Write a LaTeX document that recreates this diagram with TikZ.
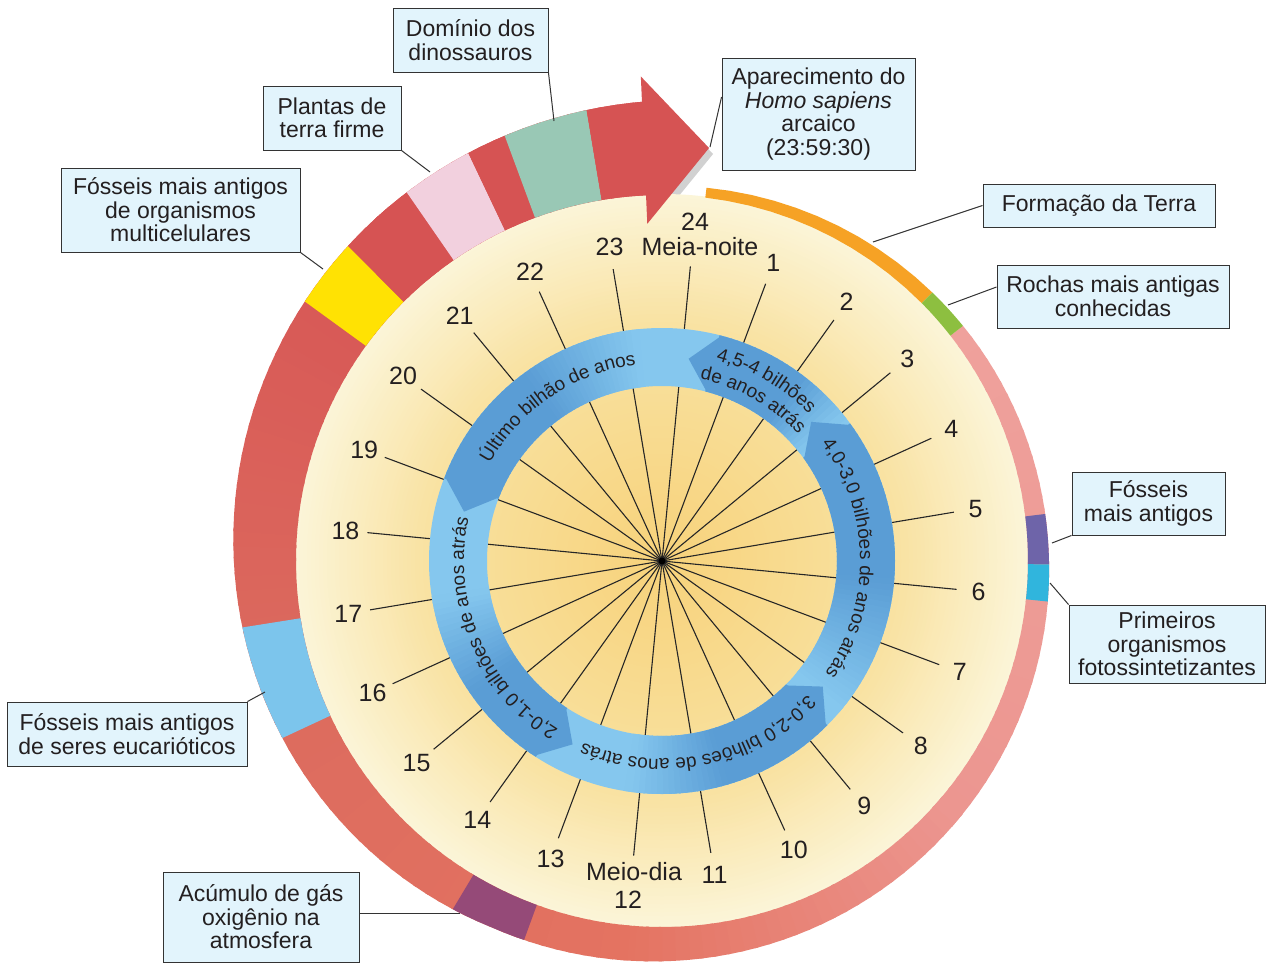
\documentclass[tikz,border=0pt]{standalone}
\usepackage{fontspec}
\setmainfont{Liberation Sans}
\usetikzlibrary{decorations.text}
\definecolor{txt}{HTML}{231F20}
\definecolor{boxfill}{HTML}{E2F4FC}
\definecolor{boxline}{HTML}{333333}
\definecolor{cEdge}{HTML}{FBF5D8}
\definecolor{cMid}{HTML}{F9E2A2}
\definecolor{cCen}{HTML}{F7D27A}
\definecolor{rA}{HTML}{EFA19C}
\definecolor{rB}{HTML}{EC9690}
\definecolor{rC}{HTML}{E47361}
\definecolor{rD}{HTML}{DC6B5E}
\definecolor{rE}{HTML}{D75555}
\definecolor{bOrange}{HTML}{F6A225}
\definecolor{bGreen}{HTML}{8DBF40}
\definecolor{bPurple}{HTML}{6E64A9}
\definecolor{bCyan}{HTML}{30B5DD}
\definecolor{bOxy}{HTML}{954A78}
\definecolor{bLblue}{HTML}{7CC5EC}
\definecolor{bYellow}{HTML}{FFE203}
\definecolor{bPink}{HTML}{F2D0DE}
\definecolor{bTeal}{HTML}{99C8B5}
\definecolor{bRed}{HTML}{D65353}
\definecolor{blight}{HTML}{85C7EE}
\definecolor{bdark}{HTML}{5A9DD5}
\newcommand\boxfont{\fontsize{23}{23.5}\selectfont}
\newcommand\clockfont{\fontsize{25}{26}\selectfont}
\newcommand\ringfont{\fontsize{19}{20}\selectfont}
\newcommand\ringseg[3]{\fill[#3] plot[domain=#1:#2,samples=4,variable=\t] ({366*sin(\t)},{366*cos(\t)}) -- plot[domain=#2:#1,samples=4,variable=\t] ({Rout(\t)*sin(\t)},{Rout(\t)*cos(\t)}) -- cycle;}
\newcommand\bandseg[3]{\fill[#3] plot[domain=#1:#2,samples=12,variable=\t] ({366*sin(\t)},{366*cos(\t)}) -- plot[domain=#2:#1,samples=12,variable=\t] ({Rout(\t)*sin(\t)},{Rout(\t)*cos(\t)}) -- cycle;}
\tikzset{
  lbl/.style={draw=boxline, fill=boxfill, line width=0.9pt, align=center, inner sep=0pt, font=\boxfont, text=txt},
  conn/.style={draw=boxline, line width=1pt},
  spoke/.style={draw=black!85, line width=1.1pt},
  hourlbl/.style={font=\clockfont, text=txt, inner sep=0pt},
  ringtxt/.style={decorate, decoration={text along path, text align=center, text color=txt, text={|\ringfont|#1}}}
}
\begin{document}
\begin{tikzpicture}[x=1pt,y=1pt,
  declare function={
    thk(\t)=(\t<90) ? (8+12*\t/90) : ((\t<205) ? (20+17*(\t-90)/115) : ((\t<310) ? (37+39*(\t-205)/105) : (76+14*(\t-310)/40)));
    Rout(\t)=367+thk(\t);
  }]
\useasboundingbox (0,0) rectangle (1270,-972);
\fill[white] (0,0) rectangle (1270,-972);

\begin{scope}[shift={(662,-561)}]
  % soft shadow of the arrow head
  \fill[black!18, xshift=4, yshift=-6] (92.5:337.5) -- (92.5:485) -- (83.5:415.7) -- cycle;
  % cream disc with radial gradient
  \foreach \r in {367,363,...,239} {
    \pgfmathsetmacro\p{(\r-239)/128*100}
    \fill[cEdge!\p!cMid] (0,0) circle (\r);
  }
  \foreach \r in {235,231,...,3} {
    \pgfmathsetmacro\p{\r/235*100}
    \fill[cMid!\p!cCen] (0,0) circle (\r);
  }
  % spokes
  \foreach \h in {1,...,24} {
    \pgfmathsetmacro\ang{90-15*\h-5.5}
    \draw[spoke] (0,0) -- (\ang:296);
  }
  \fill[black] (0,0) circle (3.5);
  % blue ring
  \fill[blight, even odd rule] (0,0) circle (233) (0,0) circle (175);
  \foreach \b/\D/\F in {14.5/22/15, 54/40/35, 135/28/25, 213/22/25, 291/32/30} {
    \pgfmathsetmacro\L{\D+\F}
    \foreach \k in {0,1.5,...,\L} {
      \pgfmathsetmacro\p{min(100,max(0,100-(\k-\D)/\F*100))}
      \pgfmathsetmacro\aa{90-\b-\k+0.2}
      \pgfmathsetmacro\ab{90-\b-\k-1.8}
      \fill[bdark!\p!blight] (\aa:175) -- (\aa:233) -- (\ab:233) -- (\ab:175) -- cycle;
    }
    \fill[bdark] (90-\b-0.3:175) -- (90-\b-0.3:233) -- (90-\b+7:204) -- cycle;
  }
  % texts on the blue ring
  \path[ringtxt={4,5-4 bilhões}] (90:208) arc[start angle=90, end angle=30, radius=208];
  \path[ringtxt={de anos atrás}] (90.5:186) arc[start angle=90.5, end angle=30.5, radius=186];
  \path[ringtxt={4,0-3,0 bilhões de anos atrás}] (46:198) arc[start angle=46, end angle=-44, radius=198];
  \path[ringtxt={3,0-2,0 bilhões de anos atrás}] (-33:198) arc[start angle=-33, end angle=-123, radius=198];
  \path[ringtxt={2,0-1,0 bilhões de anos atrás}] (-112:198) arc[start angle=-112, end angle=-202, radius=198];
  \path[ringtxt={Último bilhão de anos}] (-196:198) arc[start angle=-196, end angle=-276, radius=198];
  % outer time ring, base gradient
  \foreach \s/\e/\cs/\ce in {52/130/rA/rB, 130/185/rB/rC, 185/250/rC/rD, 250/320/rD/rE, 320/357.5/rE/rE} {
    \pgfmathsetmacro\st{\s+2}
    \foreach \a in {\s,\st,...,\e} {
      \pgfmathsetmacro\p{(\a-\s)/(\e-\s)*100}
      \pgfmathsetmacro\aend{min(\a+2.5,357.5)}
      \ringseg{\a}{\aend}{\ce!\p!\cs}
    }
  }
  % marked events on the ring
  \bandseg{6.8}{45.2}{bOrange}
  \bandseg{45.2}{52}{bGreen}
  \bandseg{83}{90.5}{bPurple}
  \bandseg{90.5}{96}{bCyan}
  \bandseg{200}{211}{bOxy}
  \bandseg{245}{261}{bLblue}
  \bandseg{306}{315.1}{bYellow}
  \bandseg{315.1}{325.3}{bRed}
  \bandseg{325.3}{334.6}{bPink}
  \bandseg{334.6}{339.7}{bRed}
  \bandseg{339.7}{350.5}{bTeal}
  \bandseg{350.5}{357.6}{bRed}
  % arrow head
  \fill[bRed] (92.5:337.5) -- (92.5:485) -- (83.5:415.7) -- cycle;
  % hour labels
  \foreach \h in {1,...,11,13,14,...,23} {
    \pgfmathsetmacro\ang{90-15*\h-5.5}
    \node[hourlbl] (h\h) at (\ang:318) {\h};
  }
  \node[hourlbl] (h24) at (33,339) {24};
  \node[hourlbl] (mn) at (38,314) {Meia-noite};
  \node[hourlbl] (h12) at (-34,-339) {12};
  \node[hourlbl] (md) at (-28,-311) {Meio-dia};
\end{scope}

% label boxes
\node[lbl, minimum width=155pt, minimum height=64pt] (dom) at (470.5,-40) {Domínio dos\\dinossauros};
\node[lbl, minimum width=138pt, minimum height=64pt] (plt) at (332,-118) {Plantas de\\terra firme};
\node[lbl, minimum width=239pt, minimum height=84pt] (mul) at (180.5,-210) {Fósseis mais antigos\\de organismos\\multicelulares};
\node[lbl, minimum width=193pt, minimum height=112pt] (apa) at (818.5,-114) {Aparecimento do\\\textit{Homo sapiens}\\arcaico\\(23:59:30)};
\node[lbl, minimum width=232pt, minimum height=43pt] (for) at (1099,-205.5) {Formação da Terra};
\node[lbl, minimum width=232pt, minimum height=63pt] (roc) at (1113,-296.5) {Rochas mais antigas\\conhecidas};
\node[lbl, minimum width=153pt, minimum height=63pt] (fos) at (1148.5,-503.5) {Fósseis\\mais antigos};
\node[lbl, minimum width=196pt, minimum height=78pt] (pri) at (1167,-644) {Primeiros\\organismos\\fotossintetizantes};
\node[lbl, minimum width=240pt, minimum height=64pt] (euc) at (127,-734) {Fósseis mais antigos\\de seres eucarióticos};
\node[lbl, minimum width=196pt, minimum height=90pt] (acu) at (261,-917) {Acúmulo de gás\\oxigênio na\\atmosfera};

% connector end points on the ring
\coordinate (eDom) at (554,-121);
\coordinate (ePlt) at (430,-172);
\coordinate (eMul) at (323,-269);
\coordinate (eApa) at (710,-147);
\coordinate (eFor) at (873,-242);
\coordinate (eRoc) at (948,-305);
\coordinate (eFos) at (1052,-543);
\coordinate (ePri) at (1050,-583);
\coordinate (eEuc) at (265,-692);
\coordinate (eAcu) at (460,-913);

\draw[conn] (dom.south east) -- (eDom);
\draw[conn] (plt.south east) -- (ePlt);
\draw[conn] (mul.south east) -- (eMul);
\draw[conn] ([yshift=17pt]apa.west) -- (eApa);
\draw[conn] (for.west) -- (eFor);
\draw[conn] ([yshift=9.5pt]roc.west) -- (eRoc);
\draw[conn] (fos.south west) -- (eFos);
\draw[conn] (pri.north west) -- (ePri);
\draw[conn] (euc.north east) -- (eEuc);
\draw[conn] ([yshift=4pt]acu.east) -- (eAcu);
\end{tikzpicture}
\end{document}
